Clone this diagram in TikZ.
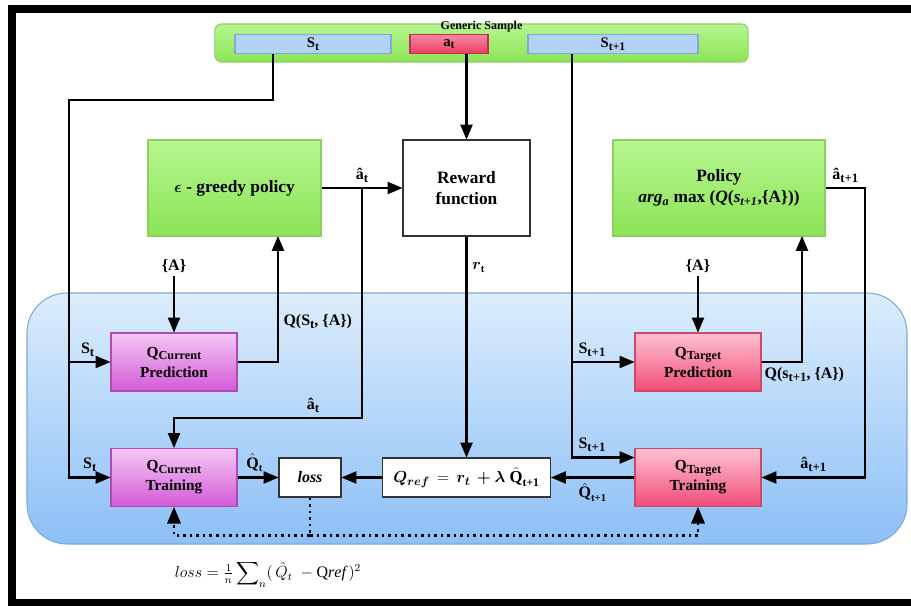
\documentclass[tikz,border=0pt]{standalone}
\usepackage{amsmath}
\usepackage{fontspec}
\setmainfont{Liberation Serif}
\usepackage{tikz}
\usetikzlibrary{positioning, arrows}

\definecolor{greentop}{HTML}{B6F690}
\definecolor{greenbot}{HTML}{8CE456}
\definecolor{greenline}{HTML}{8CCF63}
\definecolor{bluetop}{HTML}{DCEDFC}
\definecolor{bluebot}{HTML}{8CBFF7}
\definecolor{blueline}{HTML}{7FA9DF}
\definecolor{stateblue}{HTML}{B3D3F6}
\definecolor{acttop}{HTML}{F7889F}
\definecolor{actbot}{HTML}{EC3F64}
\definecolor{curtop}{HTML}{F4C8F4}
\definecolor{curbot}{HTML}{D45AD8}
\definecolor{curline}{HTML}{B048B8}
\definecolor{tartop}{HTML}{FFC2D2}
\definecolor{tarbot}{HTML}{F04C78}
\definecolor{tarline}{HTML}{D04868}

\newcommand{\lsub}[2]{#1\raisebox{-.4ex}{\scalebox{.8}{#2}}}

\begin{document}
\begin{tikzpicture}[x=0.75pt, y=-0.75pt, ->, >=triangle 45, line width=1.6pt,
    font=\bfseries\fontsize{12}{14}\selectfont,
    box/.style={draw, -, line width=0.8pt, align=center, inner sep=2pt},
    greenbox/.style={box, draw=greenline, top color=greentop, bottom color=greenbot},
    statebox/.style={box, draw=blueline, fill=stateblue, inner sep=0pt, minimum height=14.25pt, font=\bfseries\fontsize{11}{12}\selectfont},
    curbox/.style={box, draw=curline, top color=curtop, bottom color=curbot, minimum width=94.5pt, minimum height=43.5pt, font=\bfseries\fontsize{11.5}{15}\selectfont},
    tarbox/.style={box, draw=tarline, top color=tartop, bottom color=tarbot, minimum width=94.5pt, minimum height=43.5pt, font=\bfseries\fontsize{11.5}{15}\selectfont},
    whitebox/.style={box, draw=black!80, fill=white},
    lbl/.style={inner sep=1.5pt},
    dotline/.style={line width=1.9pt, dash pattern=on 1.9pt off 3pt}]
    \useasboundingbox (0,0) rectangle (911,606);
    % frame
    \fill (8,5) rectangle (911,13);
    \fill (8,5) rectangle (16,606);
    \fill (8,599) rectangle (911,606);
    % training area
    \draw[-, blueline, line width=0.8pt, top color=bluetop, bottom color=bluebot, rounded corners=30pt] (27,293) rectangle (907,544);

    % generic sample
    \node[greenbox, rounded corners=5pt, minimum width=400pt, minimum height=28.5pt] (sample) at (481.5,43) {};
    \node[inner sep=0pt, font=\bfseries\fontsize{9}{10}\selectfont] (sampletitle) at (481.5,27) {Generic Sample};
    \node[statebox, minimum width=117pt] (st) at (313,44) {\lsub{S}{t}};
    \node[statebox, draw=actbot!80!black, top color=acttop, bottom color=actbot, minimum width=58.5pt] (at) at (449,44) {\lsub{a}{t}};
    \node[statebox, minimum width=127.5pt] (st1) at (613,44) {\lsub{S}{t+1}};

    % policies and reward
    \node[greenbox, minimum width=129.75pt, minimum height=72pt, font=\bfseries\fontsize{13}{16}\selectfont] (greedy) at (234.5,188) {$\boldsymbol{\epsilon}$ - greedy policy};
    \node[whitebox, minimum width=95.25pt, minimum height=72pt, font=\bfseries\fontsize{13}{16}\selectfont] (reward) at (466.5,188) {Reward\\function};
    \node[greenbox, minimum width=159pt, minimum height=72pt, font=\bfseries\fontsize{13}{16}\selectfont] (policy) at (719,188) {Policy\\\textit{arg}\textsubscript{\textit{a}} max (\textit{Q}(\textit{s}\textsubscript{\textit{t+1}},\{A\}))};
    \node[lbl] (aset1) at (174,266) {\{A\}};
    \node[lbl] (aset2) at (698,266) {\{A\}};

    % networks
    \node[curbox] (qcp) at (174,362) {\lsub{Q}{Current}\\Prediction};
    \node[curbox] (qct) at (174,477.5) {\lsub{Q}{Current}\\Training};
    \node[tarbox] (qtp) at (698,362) {\lsub{Q}{Target}\\Prediction};
    \node[tarbox] (qtt) at (698,477.5) {\lsub{Q}{Target}\\Training};
    \node[whitebox, minimum width=46.5pt, minimum height=29.25pt, font=\bfseries\itshape\fontsize{12}{14}\selectfont] (loss) at (310,477.5) {loss};
    \node[whitebox, minimum width=126pt, minimum height=29.25pt, inner sep=1pt, font=\fontsize{12.5}{15}\selectfont] (qref) at (466.5,477.5) {$\boldsymbol{Q_{ref}} \,=\, \boldsymbol{r_t} \,\boldsymbol{+}\boldsymbol{\lambda}\;\hat{\textbf{Q}}_{\textbf{t+1}}$};
    \node[font=\fontsize{12}{15}\selectfont] (lossdef) at (268,574) {$loss = \frac{1}{n}\displaystyle\sum\nolimits_{n}(\,\hat{Q}_t\; - \mathrm{Q}\mathit{ref}\,)^2$};

    % S_t bus
    \coordinate (sbend) at (273,100);
    \coordinate (leftbus) at (69,100);
    \draw (st.south -| sbend) |- (leftbus) |- node[above, pos=.75] {\lsub{S}{t}} (qct.west);
    \draw (leftbus |- qcp.west) -- node[above, pos=.45] {\lsub{S}{t}} (qcp.west);
    % a_t
    \draw (at.south -| reward.north) -- (reward.north);
    % S_{t+1} bus
    \coordinate (rbus) at (572,100);
    \draw (st1.south -| rbus) |- node[above, pos=.66] {\lsub{S}{t+1}} ([yshift=15pt]qtt.west);
    \draw (rbus |- qtp.west) -- node[above, pos=.32] {\lsub{S}{t+1}} (qtp.west);

    % current side
    \draw (greedy.east) -- node[above] {\lsub{â}{t}} (reward.west);
    \coordinate (abus) at (362,188);
    \coordinate (aturn) at (362,418);
    \draw (abus) -- (aturn) -| node[above, pos=.13] {\lsub{â}{t}} (qct.north);
    \draw (aset1) -- (qcp.north);
    \coordinate (gin) at (278,236);
    \draw (qcp.east) -| node[right, pos=.66] {Q(\lsub{S}{t}, \{A\})} (gin);
    \draw (reward.south) -- node[right, pos=.14] {$\boldsymbol{r}_{\textbf{t}}$} (qref.north);
    \draw (qct.east) -- node[above, pos=.42] {$\hat{\textbf{Q}}_{\textbf{t}}$} (loss.west);
    \draw (qref.west) -- (loss.east);
    \draw (qtt.west) -- node[below] {$\hat{\textbf{Q}}_{\textbf{t+1}}$} (qref.east);

    % target side
    \draw (aset2) -- (qtp.north);
    \coordinate (pin) at (802,236);
    \draw (qtp.east) -| (pin);
    \node[lbl, anchor=north west, yshift=-2pt] (qtlbl) at (qtp.east) {Q(\lsub{s}{t+1}, \{A\})};
    \coordinate (pout) at (865,188);
    \draw (policy.east) -- node[above] {\lsub{â}{t+1}} (pout) |- node[above, pos=.75] {\lsub{â}{t+1}} (qtt.east);

    % loss feedback
    \path (loss.south) ++(0,38) coordinate (dotbase);
    \draw[-, dotline] (loss.south) -- (dotbase);
    \draw[dotline] (dotbase) -| (qct.south);
    \draw[dotline] (dotbase) -| (qtt.south);
\end{tikzpicture}
\end{document}
